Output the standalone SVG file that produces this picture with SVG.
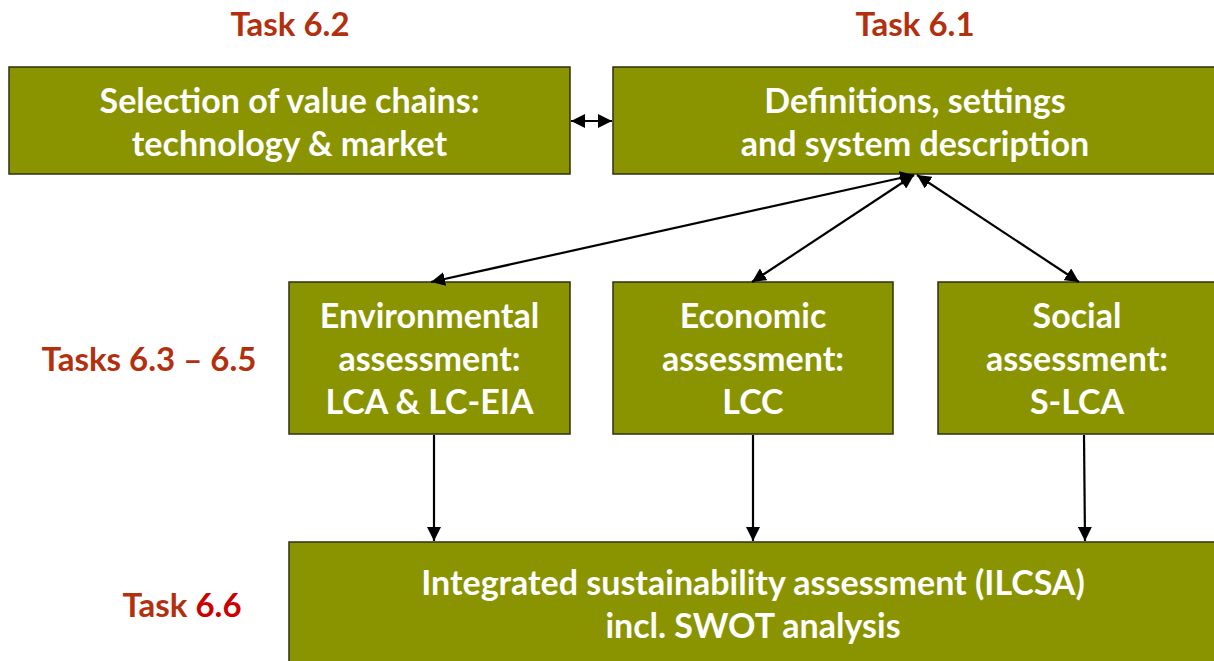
<svg xmlns="http://www.w3.org/2000/svg" width="1214" height="661" viewBox="0 0 1214 661">
<style>
.box{fill:#8a9400;stroke:#2f2f10;stroke-width:1.5}
.bt{font-family:Lato,"Liberation Sans",sans-serif;font-weight:bold;font-size:34px;fill:#ffffff;text-anchor:middle}
.lbl{font-family:Lato,"Liberation Sans",sans-serif;font-weight:bold;font-size:33px;fill:#b3300f}
.conn{stroke:#000;stroke-width:2.2;fill:none}
</style>
<defs>
<marker id="ah2" viewBox="0 0 10 10" refX="10" refY="5" markerWidth="14" markerHeight="14" orient="auto-start-reverse" markerUnits="userSpaceOnUse">
<path d="M0,0 L10,5 L0,10 z" fill="#000"/>
</marker>
</defs>
<rect width="1214" height="661" fill="#fff"/>
<g id="labels">
<text class="lbl" x="290" y="36" text-anchor="middle">Task 6.2</text>
<text class="lbl" x="915" y="36" text-anchor="middle">Task 6.1</text>
<text class="lbl" x="149" y="371" text-anchor="middle">Tasks 6.3 – 6.5</text>
<text class="lbl" x="182" y="617" text-anchor="middle">Task <tspan fill="#cc0000">6.6</tspan></text>
</g>
<g id="node-selection">
<rect class="box" x="9" y="67" width="561" height="107"/>
<text class="bt" x="289.5" y="113">Selection of value chains:</text>
<text class="bt" x="289.5" y="156">technology &amp; market</text>
</g>
<g id="node-definitions">
<rect class="box" x="613" y="67" width="610" height="107"/>
<text class="bt" x="915" y="113">Definitions, settings</text>
<text class="bt" x="915" y="156">and system description</text>
</g>
<g id="node-environmental">
<rect class="box" x="289" y="282" width="281" height="152"/>
<text class="bt" x="429.5" y="328">Environmental</text>
<text class="bt" x="429.5" y="371">assessment:</text>
<text class="bt" x="429.5" y="414">LCA &amp; LC-EIA</text>
</g>
<g id="node-economic">
<rect class="box" x="613" y="282" width="280" height="152"/>
<text class="bt" x="753" y="328">Economic</text>
<text class="bt" x="753" y="371">assessment:</text>
<text class="bt" x="753" y="414">LCC</text>
</g>
<g id="node-social">
<rect class="box" x="938" y="282" width="285" height="152"/>
<text class="bt" x="1077" y="328">Social</text>
<text class="bt" x="1077" y="371">assessment:</text>
<text class="bt" x="1077" y="414">S-LCA</text>
</g>
<g id="node-integrated">
<rect class="box" x="289" y="542" width="934" height="130"/>
<text class="bt" x="753" y="595">Integrated sustainability assessment (ILCSA)</text>
<text class="bt" x="753" y="638">incl. SWOT analysis</text>
</g>
<g id="connectors">
<line class="conn" x1="571" y1="121" x2="612" y2="121" marker-start="url(#ah2)" marker-end="url(#ah2)"/>
<line class="conn" x1="914" y1="175" x2="431" y2="282" marker-start="url(#ah2)" marker-end="url(#ah2)"/>
<line class="conn" x1="914" y1="175" x2="752" y2="282" marker-start="url(#ah2)" marker-end="url(#ah2)"/>
<line class="conn" x1="917" y1="175" x2="1079" y2="282" marker-start="url(#ah2)" marker-end="url(#ah2)"/>
<line class="conn" x1="434" y1="435" x2="434" y2="541" marker-end="url(#ah2)"/>
<line class="conn" x1="753" y1="435" x2="753" y2="541" marker-end="url(#ah2)"/>
<line class="conn" x1="1084" y1="435" x2="1085" y2="541" marker-end="url(#ah2)"/>
</g>
</svg>
